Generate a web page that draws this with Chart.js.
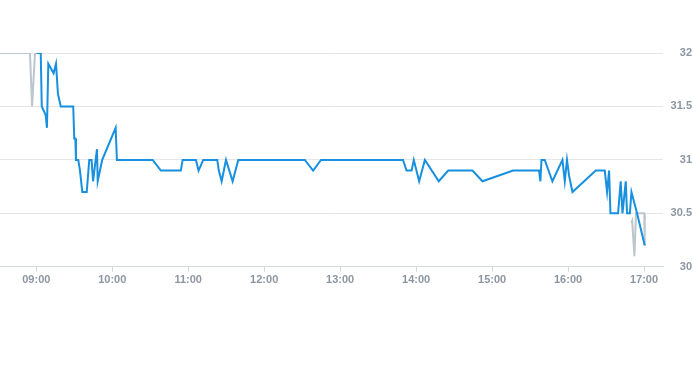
<!DOCTYPE html>
<html>
<head>
<meta charset="utf-8">
<script src="https://cdn.jsdelivr.net/npm/chart.js@4/dist/chart.umd.min.js"></script>
<style>
  html, body { margin: 0; padding: 0; background: #fff; }
  #wrap { width: 693px; height: 365px; }
</style>
</head>
<body>
<div id="wrap"><canvas id="priceChart"></canvas></div>
<script>
    // pre-market (grey)
    var preTimes = ['08:31:20', '08:55:00', '08:56:40', '08:59:00', '09:00:00'];
    var preValues = [32, 32, 31.5, 32, 32];

    // main session (blue)
    var mainTimes = [
        '09:00:00', '09:03:30', '09:04:20', '09:07:25', '09:08:25', '09:09:30', '09:13:40', '09:15:35',
        '09:17:05', '09:19:20', '09:29:10', '09:30:00', '09:30:50', '09:31:20', '09:33:10', '09:34:30',
        '09:36:20', '09:39:50', '09:41:50', '09:43:40', '09:44:50', '09:47:55', '09:48:30', '09:52:05',
        '10:02:40', '10:03:40', '10:31:55', '10:38:25', '10:54:10', '10:55:35', '11:06:05', '11:08:10',
        '11:11:50', '11:22:55', '11:24:10', '11:26:25', '11:29:50', '11:35:05', '11:39:30', '12:32:05',
        '12:38:40', '12:44:50', '13:49:40', '13:52:25', '13:56:25', '13:58:10', '14:02:25', '14:06:55',
        '14:17:55', '14:25:20', '14:44:30', '14:52:25', '15:16:35', '15:37:05', '15:38:10', '15:39:00',
        '15:41:35', '15:47:40', '15:55:35', '15:57:25', '15:59:10', '16:00:50', '16:03:30', '16:21:55',
        '16:29:00', '16:30:50', '16:32:25', '16:33:30', '16:39:30', '16:41:35', '16:43:00', '16:45:35',
        '16:46:35', '16:48:50', '16:50:05', '16:54:30', '17:00:35'
    ];
    var mainValues = [
        32, 32, 31.5, 31.42, 31.3, 31.9, 31.81, 31.9,
        31.62, 31.5, 31.5, 31.2, 31.2, 31.0, 31.0, 30.9,
        30.7, 30.7, 31.0, 31.0, 30.8, 31.1, 30.8, 31.0,
        31.3, 31.0, 31.0, 30.9, 30.9, 31.0, 31.0, 30.9,
        31.0, 31.0, 30.9, 30.8, 31.0, 30.8, 31.0, 31.0,
        30.9, 31.0, 31.0, 30.9, 30.9, 31.0, 30.8, 31.0,
        30.8, 30.9, 30.9, 30.8, 30.9, 30.9, 30.8, 31.0,
        31.0, 30.8, 31.0, 30.8, 31.0, 30.85, 30.7, 30.9,
        30.9, 30.7, 30.9, 30.5, 30.5, 30.8, 30.5, 30.8,
        30.5, 30.5, 30.7, 30.5, 30.2
    ];

    // after hours (grey)
    var postTimes = ['16:50:00', '16:50:40', '16:52:25', '16:53:40', '17:00:10', '17:00:35'];
    var postValues = [30.41, 30.43, 30.1, 30.5, 30.5, 30.2];

    var timeTicks = ['09:00', '10:00', '11:00', '12:00', '13:00', '14:00', '15:00', '16:00', '17:00'];
    var priceTicks = [30, 30.5, 31, 31.5, 32];

    function toMinutes(t) {
        var p = t.split(':');
        return parseInt(p[0]) * 60 + parseInt(p[1]) + (p[2] ? parseInt(p[2]) / 60 : 0);
    }

    function toPoints(times, values) {
        var pts = [];
        for (var i = 0; i < times.length; i++) {
            pts.push({x: toMinutes(times[i]), y: values[i]});
        }
        return pts;
    }

    function pad(n) {
        return (n < 10 ? '0' : '') + n;
    }

    var labelColor = '#8c96a2';
    var labelFont = {family: 'Liberation Sans, Arial, sans-serif', size: 11, weight: 'bold'};

    var ctx = document.getElementById('priceChart').getContext('2d');
    new Chart(ctx, {
        type: 'line',
        data: {
            datasets: [
                {
                    data: toPoints(mainTimes, mainValues),
                    borderColor: '#1790df',
                    borderWidth: 2,
                    pointRadius: 0,
                    tension: 0,
                    order: 1
                },
                {
                    data: toPoints(preTimes, preValues),
                    borderColor: '#bcc6cd',
                    borderWidth: 2,
                    pointRadius: 0,
                    tension: 0,
                    order: 2
                },
                {
                    data: toPoints(postTimes, postValues),
                    borderColor: '#bcc6cd',
                    borderWidth: 2,
                    pointRadius: 0,
                    tension: 0,
                    order: 2
                }
            ]
        },
        options: {
            responsive: true,
            maintainAspectRatio: false,
            animation: false,
            layout: {padding: {top: 53, bottom: 76, left: 0, right: 1}},
            plugins: {legend: {display: false}, tooltip: {enabled: false}},
            scales: {
                x: {
                    type: 'linear',
                    min: toMinutes('08:31:20'),
                    max: toMinutes('17:15:00'),
                    afterBuildTicks: function (scale) {
                        scale.ticks = timeTicks.map(function (t) {
                            return {value: toMinutes(t)};
                        });
                    },
                    ticks: {
                        color: labelColor,
                        font: labelFont,
                        padding: 2,
                        maxRotation: 0,
                        callback: function (v) {
                            return pad(Math.floor(v / 60)) + ':' + pad(Math.round(v % 60));
                        }
                    },
                    grid: {drawOnChartArea: false, tickLength: 5, color: '#d3d8df'},
                    border: {color: '#d3d8df'}
                },
                y: {
                    position: 'right',
                    min: 30,
                    max: 32,
                    afterBuildTicks: function (scale) {
                        scale.ticks = priceTicks.map(function (v) {
                            return {value: v};
                        });
                    },
                    afterFit: function (scale) {
                        scale.width = 29;
                    },
                    ticks: {
                        color: labelColor,
                        font: labelFont,
                        padding: 8,
                        crossAlign: 'far',
                        callback: function (v) {
                            return String(v);
                        }
                    },
                    grid: {color: '#e6e6e6', drawTicks: false},
                    border: {display: false}
                }
            }
        }
    });
</script>
</body>
</html>
